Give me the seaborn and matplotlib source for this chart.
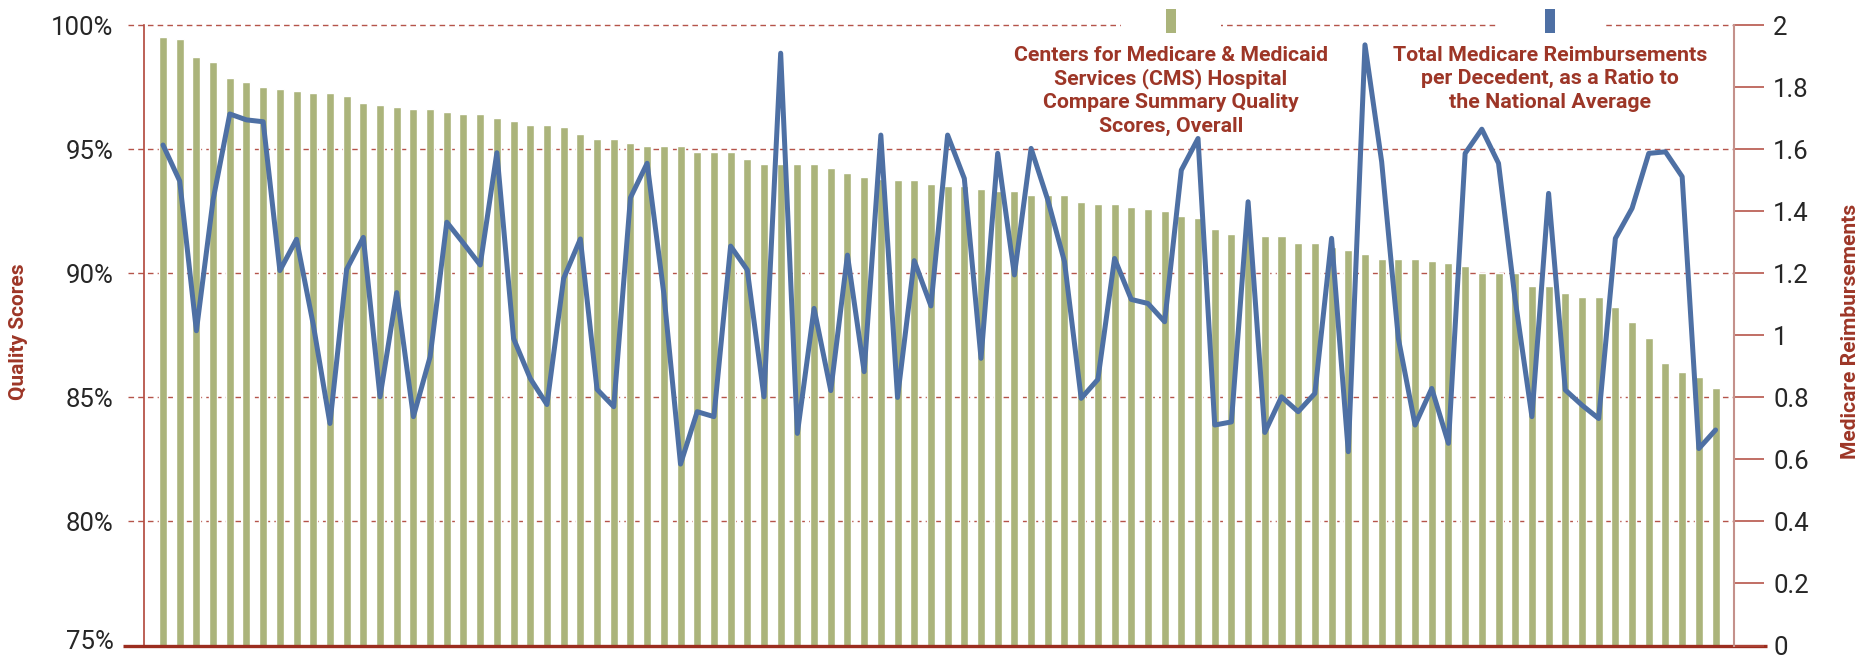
import numpy as np
import pandas as pd
import matplotlib
matplotlib.use('Agg')
import matplotlib.pyplot as plt
import matplotlib.transforms as mtransforms
import seaborn as sns
from matplotlib.patches import Rectangle

# quality score (%) per hospital, sorted high -> low
scores = [99.53, 99.45, 98.72, 98.52, 97.88, 97.72, 97.51, 97.43, 97.35, 97.27,
          97.27, 97.15, 96.87, 96.79, 96.71, 96.63, 96.63, 96.51, 96.42, 96.42,
          96.26, 96.14, 95.98, 95.98, 95.90, 95.62, 95.42, 95.42, 95.26, 95.13,
          95.13, 95.13, 94.89, 94.89, 94.89, 94.61, 94.41, 94.41, 94.41, 94.41,
          94.25, 94.05, 93.88, 93.80, 93.76, 93.76, 93.60, 93.52, 93.52, 93.40,
          93.32, 93.32, 93.16, 93.16, 93.16, 92.88, 92.80, 92.80, 92.67, 92.59,
          92.51, 92.31, 92.23, 91.79, 91.59, 91.55, 91.51, 91.51, 91.22, 91.22,
          91.05, 90.94, 90.78, 90.58, 90.58, 90.58, 90.50, 90.42, 90.30, 90.01,
          90.01, 90.01, 89.49, 89.49, 89.21, 89.05, 89.05, 88.64, 88.04, 87.39,
          86.39, 86.02, 85.82, 85.38]

# medicare reimbursement ratio to national average
ratio = [1.614, 1.498, 1.015, 1.437, 1.714, 1.695, 1.689, 1.209, 1.310, 1.035,
         0.716, 1.213, 1.316, 0.802, 1.138, 0.738, 0.931, 1.365, 1.297, 1.227,
         1.589, 0.990, 0.861, 0.777, 1.184, 1.311, 0.826, 0.770, 1.444, 1.555,
         1.135, 0.585, 0.754, 0.738, 1.288, 1.211, 0.802, 1.910, 0.684, 1.087,
         0.822, 1.259, 0.883, 1.646, 0.800, 1.241, 1.095, 1.646, 1.506, 0.926,
         1.587, 1.195, 1.603, 1.437, 1.238, 0.797, 0.858, 1.248, 1.116, 1.103,
         1.044, 1.533, 1.635, 0.711, 0.721, 1.431, 0.687, 0.802, 0.754, 0.813,
         1.313, 0.625, 1.937, 1.560, 0.990, 0.711, 0.829, 0.652, 1.587, 1.665,
         1.555, 1.114, 0.738, 1.458, 0.824, 0.775, 0.732, 1.313, 1.410, 1.587,
         1.592, 1.512, 0.635, 0.695]

left_ticks = [75, 80, 85, 90, 95, 100]
right_ticks = [0, 0.2, 0.4, 0.6, 0.8, 1, 1.2, 1.4, 1.6, 1.8, 2]
legend_lines = [['Centers for Medicare & Medicaid', 'Services (CMS) Hospital',
                 'Compare Summary Quality', 'Scores, Overall'],
                ['Total Medicare Reimbursements', 'per Decedent, as a Ratio to',
                 'the National Average']]

GREEN = '#abb47b'
BLUE = '#4e70a4'
RED = '#9d3627'
AXRED = '#b0463a'
GRID = '#b5544a'

W, H = 1859, 658
def fx(px): return px / W
def fy(py): return 1 - py / H
def xd(px): return (px - 163) / 16.694   # pixel -> bar index

sns.set_style('white')
plt.rcParams['font.family'] = ['Roboto', 'DejaVu Sans']

df = pd.DataFrame({'hospital': np.arange(len(scores)), 'score': scores, 'ratio': ratio})

fig = plt.figure(figsize=(W / 100, H / 100), dpi=100)
renderer = fig.canvas.get_renderer()

def fit(texts, target, horiz=True):
    # scale font so the first text spans target pixels
    bb = texts[0].get_window_extent(renderer=renderer)
    size = bb.width if horiz else bb.height
    for t in texts:
        t.set_fontsize(t.get_fontsize() * target / size)

ax = fig.add_axes([fx(144), fy(645.5), (1734 - 144) / W, (645.5 - 25.3) / H])

sns.barplot(data=df, x='hospital', y='score', color=GREEN, saturation=1,
            width=0.48, errorbar=None, ax=ax, zorder=2)

ax2 = ax.twinx()
sns.lineplot(data=df, x='hospital', y='ratio', color=BLUE, lw=3.6, ax=ax2)

xl = (xd(144), xd(1734))
for a in (ax, ax2):
    a.set_xlim(xl)
    a.set_xticks([])
    a.set_xlabel('')
    a.set_ylabel('')
    for s in a.spines.values():
        s.set_visible(False)
ax.set_ylim(75, 100)
ax2.set_ylim(0, 2)

ax.set_yticks(left_ticks)
ax.set_yticklabels(['{}%'.format(v) for v in left_ticks])
ax.tick_params(axis='y', length=0, pad=22, labelsize=18.5, labelcolor='#262626')
ax.spines['left'].set_visible(True)
ax.spines['left'].set_color(AXRED)
ax.spines['left'].set_linewidth(1.2)

ax2.set_yticks(right_ticks)
ax2.set_yticklabels(['{:g}'.format(v) for v in right_ticks])
ax2.tick_params(axis='y', length=21.6, width=1.1, color=AXRED, pad=6.5,
                labelsize=18.5, labelcolor='#262626')
ax2.spines['right'].set_visible(True)
ax2.spines['right'].set_color('#c4918b')
ax2.spines['right'].set_linewidth(1.5)

# 75% sits on the bottom edge, lift it a little
lab = ax.get_yticklabels()[0]
lab.set_transform(lab.get_transform() +
                  mtransforms.ScaledTranslation(0, 4 / 72, fig.dpi_scale_trans))

# dashed gridlines, they poke out a bit left of the axis
for v in left_ticks[1:]:
    ax.plot([xd(128), xl[1]], [v, v], color=GRID, lw=1, dashes=(4, 3),
            clip_on=False, zorder=1)
ax.plot([xd(123), xd(1767)], [75, 75], color='#9b2d1f', lw=2.4,
        clip_on=False, solid_capstyle='butt', zorder=5)

t1 = fig.text(fx(18.7), fy(331.5), 'Quality Scores', rotation=90, ha='center',
              va='center', color=RED, fontsize=14, fontweight='bold')
t2 = fig.text(fx(1850), fy(331), 'Medicare Reimbursements', rotation=90, ha='center',
              va='center', color=RED, fontsize=14, fontweight='bold')
fit([t1], 137, horiz=False)
fit([t2], 255, horiz=False)

# legend built by hand
baselines = [60.7, 84.3, 108.2, 131.7]
for (x0, x1, mx, col, lines) in [(1121, 1221, 1171, GREEN, legend_lines[0]),
                                 (1496, 1604, 1550, BLUE, legend_lines[1])]:
    fig.add_artist(Rectangle((fx(x0), fy(38)), (x1 - x0) / W, 28 / H,
                             transform=fig.transFigure, facecolor='white',
                             edgecolor='none', zorder=3))
    fig.add_artist(Rectangle((fx(mx - 5.3), fy(33)), 10.6 / W, 24 / H,
                             transform=fig.transFigure, facecolor=col,
                             edgecolor='none', zorder=4))
    tt = [fig.text(fx(mx), fy(b), s, ha='center', va='baseline', color=RED,
                   fontsize=14, fontweight='bold', zorder=4)
          for s, b in zip(lines, baselines)]
    fit(tt, 315)

fig.savefig('out.png', dpi=100)
